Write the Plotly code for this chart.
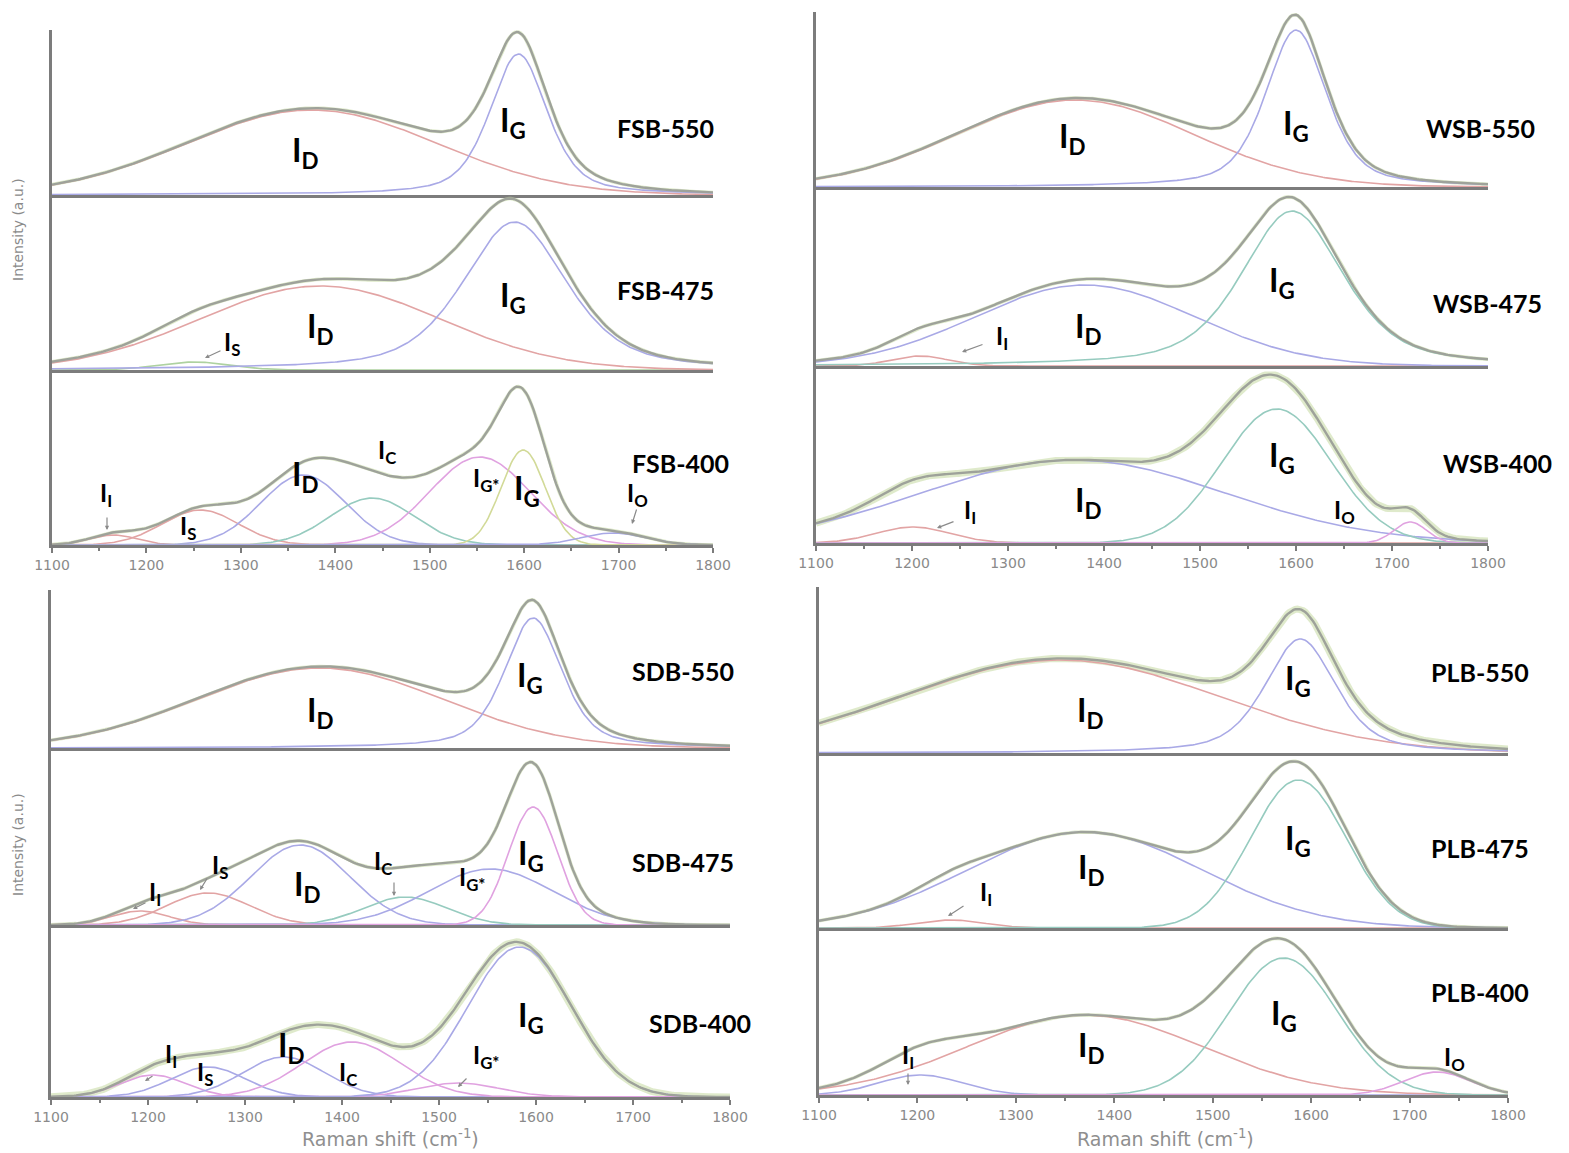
import numpy as np
import plotly.graph_objects as go

# ---------------- data ----------------
X_MIN, X_MAX = 1100, 1800
TICK_VALUES = [1100, 1200, 1300, 1400, 1500, 1600, 1700, 1800]

SAMPLES = ["FSB-550", "FSB-475", "FSB-400",
           "WSB-550", "WSB-475", "WSB-400",
           "SDB-550", "SDB-475", "SDB-400",
           "PLB-550", "PLB-475", "PLB-400"]

# fitted bands: centre (cm-1), height (a.u.), FWHM (cm-1)
FSB550_CENTER = [1375, 1594]
FSB550_HEIGHT = [85, 141]
FSB550_FWHM = [313, 72]

FSB475_CENTER = [1250, 1384, 1590]
FSB475_HEIGHT = [8, 84, 148]
FSB475_FWHM = [90, 300, 130]

FSB400_CENTER = [1165, 1257, 1366, 1439, 1553, 1599, 1694]
FSB400_HEIGHT = [10, 35, 70, 47, 88, 95, 12]
FSB400_FWHM = [60, 95, 105, 105, 125, 55, 80]

WSB550_CENTER = [1370, 1600]
WSB550_HEIGHT = [87, 157]
WSB550_FWHM = [290, 75]

WSB475_CENTER = [1208, 1380, 1596]
WSB475_HEIGHT = [10, 81, 155]
WSB475_FWHM = [70, 270, 125]

WSB400_CENTER = [1201, 1368, 1580, 1719]
WSB400_HEIGHT = [16, 83, 134, 21]
WSB400_FWHM = [90, 370, 134, 40]

SDB550_CENTER = [1377, 1597]
SDB550_HEIGHT = [80, 130]
SDB550_FWHM = [300, 70]

SDB475_CENTER = [1192, 1262, 1357, 1465, 1553, 1597]
SDB475_HEIGHT = [14, 32, 80, 28, 56, 118]
SDB475_FWHM = [70, 100, 120, 100, 150, 60]

SDB400_CENTER = [1205, 1262, 1340, 1410, 1520, 1583]
SDB400_HEIGHT = [22, 30, 40, 55, 14, 150]
SDB400_FWHM = [80, 90, 100, 120, 100, 125]

PLB550_CENTER = [1345, 1589]
PLB550_HEIGHT = [93, 114]
PLB550_FWHM = [380, 85]

PLB475_CENTER = [1233, 1370, 1587]
PLB475_HEIGHT = [8, 96, 148]
PLB475_FWHM = [80, 280, 115]

PLB400_CENTER = [1203, 1370, 1572, 1728]
PLB400_HEIGHT = [20, 80, 137, 23]
PLB400_FWHM = [100, 280, 130, 80]

BANDS = {
    "FSB-550": (FSB550_CENTER, FSB550_HEIGHT, FSB550_FWHM),
    "FSB-475": (FSB475_CENTER, FSB475_HEIGHT, FSB475_FWHM),
    "FSB-400": (FSB400_CENTER, FSB400_HEIGHT, FSB400_FWHM),
    "WSB-550": (WSB550_CENTER, WSB550_HEIGHT, WSB550_FWHM),
    "WSB-475": (WSB475_CENTER, WSB475_HEIGHT, WSB475_FWHM),
    "WSB-400": (WSB400_CENTER, WSB400_HEIGHT, WSB400_FWHM),
    "SDB-550": (SDB550_CENTER, SDB550_HEIGHT, SDB550_FWHM),
    "SDB-475": (SDB475_CENTER, SDB475_HEIGHT, SDB475_FWHM),
    "SDB-400": (SDB400_CENTER, SDB400_HEIGHT, SDB400_FWHM),
    "PLB-550": (PLB550_CENTER, PLB550_HEIGHT, PLB550_FWHM),
    "PLB-475": (PLB475_CENTER, PLB475_HEIGHT, PLB475_FWHM),
    "PLB-400": (PLB400_CENTER, PLB400_HEIGHT, PLB400_FWHM),
}

# ---------------- styles ----------------
RED, BLUE, TEAL, MAG, YEL, GRN = "#e2a4a4", "#a9a9e6", "#96cbbf", "#e0a2e0", "#d2da98", "#aed2a0"
SUM_COLOR = "#9ea29a"
AXIS_COLOR = "#7c7c7c"
TICK_FONT_COLOR = "#8a8a8a"

BAND_COLORS = {
    "FSB-550": [RED, BLUE], "FSB-475": [GRN, RED, BLUE],
    "FSB-400": [RED, RED, BLUE, TEAL, MAG, YEL, BLUE],
    "WSB-550": [RED, BLUE], "WSB-475": [RED, BLUE, TEAL], "WSB-400": [RED, BLUE, TEAL, MAG],
    "SDB-550": [RED, BLUE], "SDB-475": [RED, RED, BLUE, TEAL, BLUE, MAG],
    "SDB-400": [MAG, BLUE, BLUE, MAG, MAG, BLUE],
    "PLB-550": [RED, BLUE], "PLB-475": [RED, BLUE, TEAL], "PLB-400": [BLUE, RED, TEAL, MAG],
}
BAND_PROFILE = {
    "FSB-550": ["G", "PV"], "WSB-550": ["G", "PV"], "SDB-550": ["G", "PV"], "PLB-550": ["G", "PV"],
    "FSB-475": ["G", "G", "PV"], "WSB-475": ["G", "G", "PV"], "PLB-475": ["G", "G", "G"],
}
NOISY = {"WSB-400": 7, "SDB-400": 7, "PLB-550": 7}

W, H = 1569, 1153
# panel pixel geometry: x of 1100 and 1800, and horizontal boundaries (top -> bottom)
PANELS = [
    (52, 713, [30, 195, 370, 545]),
    (816, 1488, [12, 187, 366, 543]),
    (51, 730, [590, 748, 925, 1097]),
    (819, 1508, [587, 753, 928, 1095]),
]

x = np.arange(X_MIN, X_MAX + 1, 2.0)


def profile(xv, c, h, w, kind):
    g = np.exp(-4 * np.log(2) * ((xv - c) / w) ** 2)
    if kind == "PV":
        lz = 1.0 / (1.0 + 4 * ((xv - c) / w) ** 2)
        return h * (0.5 * g + 0.5 * lz)
    return h * g


fig = go.Figure()
layout = dict(width=W, height=H, margin=dict(l=0, r=0, t=0, b=0, autoexpand=False),
              paper_bgcolor="white", plot_bgcolor="white", showlegend=False)

k = 0
for p, (px0, px1, bounds) in enumerate(PANELS):
    for s in range(3):
        k += 1
        name = SAMPLES[3 * p + s]
        top, bot = bounds[s], bounds[s + 1]
        ydom = [1 - bot / H, 1 - top / H]
        xs = "" if k == 1 else str(k)
        bottom = (s == 2)
        layout["xaxis" + xs] = dict(
            domain=[px0 / W, px1 / W], range=[X_MIN, X_MAX], anchor="y" + xs,
            automargin=False,
            showline=True, linecolor=AXIS_COLOR, linewidth=3,
            showgrid=False, zeroline=False,
            tickmode="array", tickvals=TICK_VALUES,
            showticklabels=bottom, ticks="outside" if bottom else "",
            ticklen=5, tickwidth=2, tickcolor=AXIS_COLOR,
            tickfont=dict(family="DejaVu Sans", size=14, color=TICK_FONT_COLOR),
            minor=dict(tickvals=[v + 50 for v in TICK_VALUES[:-1]], ticks="outside" if bottom else "",
                       ticklen=3, tickwidth=2, tickcolor=AXIS_COLOR),
        )
        layout["yaxis" + xs] = dict(
            domain=ydom, range=[0, bot - top], anchor="x" + xs,
            automargin=False,
            showline=True, linecolor=AXIS_COLOR, linewidth=3,
            showgrid=False, zeroline=False, showticklabels=False, ticks="",
        )
        centers, heights, widths = BANDS[name]
        kinds = BAND_PROFILE.get(name, ["G"] * len(centers))
        total = np.zeros_like(x)
        comps = []
        for c, h, w, kind in zip(centers, heights, widths, kinds):
            yv = profile(x, c, h, w, kind)
            total += yv
            comps.append(yv)
        xa, ya = "x" + xs, "y" + xs
        # raw-data band (light green)
        fig.add_trace(go.Scatter(x=x, y=total, mode="lines", xaxis=xa, yaxis=ya,
                                 line=dict(color="rgba(196,216,160,0.55)", width=NOISY.get(name, 3.5)),
                                 hoverinfo="skip"))
        for yv, col in zip(comps, BAND_COLORS[name]):
            fig.add_trace(go.Scatter(x=x, y=yv, mode="lines", xaxis=xa, yaxis=ya,
                                     line=dict(color=col, width=1.6)))
        fig.add_trace(go.Scatter(x=x, y=total, mode="lines", xaxis=xa, yaxis=ya,
                                 line=dict(color=SUM_COLOR, width=2.4)))

fig.update_layout(**layout)

# ---------------- text ----------------
BIG, SMALL = 32, 24
LABELS = [
    # (text, px, py, size)
    ("I<sub>D</sub>", 305, 152, BIG), ("I<sub>G</sub>", 513, 122, BIG),
    ("I<sub>S</sub>", 232, 343, SMALL), ("I<sub>D</sub>", 320, 328, BIG), ("I<sub>G</sub>", 513, 297, BIG),
    ("I<sub>I</sub>", 106, 494, SMALL), ("I<sub>S</sub>", 188, 527, SMALL), ("I<sub>D</sub>", 305, 476, BIG),
    ("I<sub>C</sub>", 387, 452, SMALL), ("I<sub>G*</sub>", 486, 480, SMALL), ("I<sub>G</sub>", 527, 490, BIG),
    ("I<sub>O</sub>", 637, 494, SMALL),
    ("I<sub>D</sub>", 1072, 138, BIG), ("I<sub>G</sub>", 1296, 125, BIG),
    ("I<sub>I</sub>", 1002, 337, SMALL), ("I<sub>D</sub>", 1088, 328, BIG), ("I<sub>G</sub>", 1282, 282, BIG),
    ("I<sub>I</sub>", 970, 512, SMALL), ("I<sub>D</sub>", 1088, 502, BIG), ("I<sub>G</sub>", 1282, 457, BIG),
    ("I<sub>O</sub>", 1344, 512, SMALL),
    ("I<sub>D</sub>", 320, 712, BIG), ("I<sub>G</sub>", 530, 677, BIG),
    ("I<sub>I</sub>", 155, 893, SMALL), ("I<sub>S</sub>", 220, 866, SMALL), ("I<sub>D</sub>", 307, 886, BIG),
    ("I<sub>C</sub>", 383, 862, SMALL), ("I<sub>G*</sub>", 472, 878, SMALL), ("I<sub>G</sub>", 531, 855, BIG),
    ("I<sub>I</sub>", 171, 1055, SMALL), ("I<sub>S</sub>", 205, 1073, SMALL), ("I<sub>D</sub>", 291, 1047, BIG),
    ("I<sub>C</sub>", 348, 1073, SMALL), ("I<sub>G*</sub>", 486, 1056, SMALL), ("I<sub>G</sub>", 531, 1017, BIG),
    ("I<sub>D</sub>", 1090, 712, BIG), ("I<sub>G</sub>", 1298, 680, BIG),
    ("I<sub>I</sub>", 986, 893, SMALL), ("I<sub>D</sub>", 1091, 869, BIG), ("I<sub>G</sub>", 1298, 840, BIG),
    ("I<sub>I</sub>", 908, 1056, SMALL), ("I<sub>D</sub>", 1091, 1047, BIG), ("I<sub>G</sub>", 1284, 1015, BIG),
    ("I<sub>O</sub>", 1454, 1058, SMALL),
]
NAME_POS = [(665, 128), (665, 290), (680, 463), (1480, 128), (1487, 303), (1497, 463),
            (683, 671), (683, 862), (700, 1023), (1480, 672), (1480, 848), (1480, 992)]
ARROWS = [  # tip px, tip py, tail dx, tail dy
    (205, 358, 17, -8), (107, 530, 0, -14), (632, 524, 5, -16),
    (962, 352, 22, -8), (937, 528, 18, -7),
    (133, 909, 14, -7), (200, 890, 8, -13), (394, 896, 0, -15),
    (145, 1081, 9, -6), (458, 1087, 10, -10),
    (948, 916, 17, -11), (908, 1085, 0, -13),
]

ann = []
for txt, px, py, size in LABELS:
    ann.append(dict(text=txt, x=px / W, y=1 - py / H, xref="paper", yref="paper",
                    showarrow=False, xanchor="center", yanchor="middle",
                    font=dict(family="Lato", size=size, color="black", weight="bold")))
for name, (px, py) in zip(SAMPLES, NAME_POS):
    ann.append(dict(text=name, x=px / W, y=1 - py / H, xref="paper", yref="paper",
                    showarrow=False, xanchor="center", yanchor="middle",
                    font=dict(family="Lato", size=25, color="black", weight="bold")))
for tx, ty, dx, dy in ARROWS:
    ann.append(dict(text="", x=tx / W, y=1 - ty / H, xref="paper", yref="paper",
                    showarrow=True, ax=dx, ay=dy, arrowhead=2, arrowsize=0.7,
                    arrowwidth=1.2, arrowcolor="#8a8a8a"))
for py in (230, 845):
    ann.append(dict(text="Intensity (a.u.)", x=18 / W, y=1 - py / H, xref="paper", yref="paper",
                    showarrow=False, textangle=-90, xanchor="center", yanchor="middle",
                    font=dict(family="DejaVu Sans", size=14, color="#8a8a8a")))
for px in (390, 1165):
    ann.append(dict(text="Raman shift (cm<sup>-1</sup>)", x=px / W, y=1 - 1138 / H,
                    xref="paper", yref="paper", showarrow=False,
                    xanchor="center", yanchor="middle",
                    font=dict(family="DejaVu Sans", size=19, color="#8f8f8f")))
fig.update_layout(annotations=ann)

fig.write_html("out.html")
